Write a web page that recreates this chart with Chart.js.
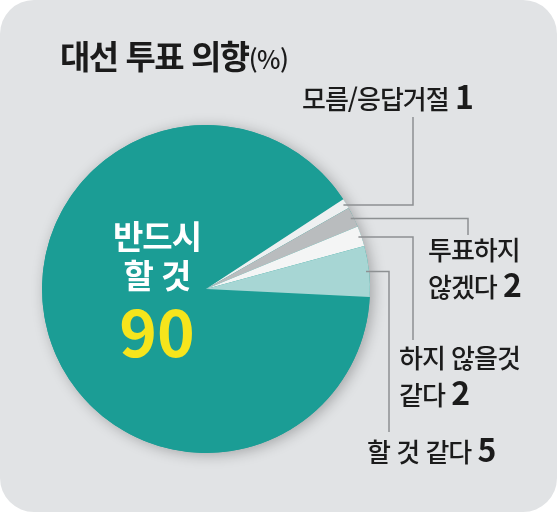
<!DOCTYPE html>
<html lang="ko">
<head>
<meta charset="utf-8">
<script src="https://cdn.jsdelivr.net/npm/chart.js@4"></script>
<style>
  html, body { margin: 0; padding: 0; background: #fff; }
  #card {
    position: relative;
    width: 557px;
    height: 512px;
    background: #e1e3e5;
    border-radius: 34px;
    overflow: hidden;
    font-family: "Noto Sans CJK KR", "Noto Sans", sans-serif;
    color: #1b1b1b;
  }
  #chart { position: absolute; left: 0; top: 0; }
  .txt { position: absolute; white-space: nowrap; }
  #title { left: 60px; top: 39px; font-size: 33px; line-height: 33px; font-weight: 700; letter-spacing: -1.5px; }
  #title small { font-size: 25px; font-weight: 500; letter-spacing: -0.5px; }
  .lbl { font-size: 26px; line-height: 34px; font-weight: 500; letter-spacing: -1px; }
  .lbl b { font-weight: 700; font-size: 32px; letter-spacing: 0; }
  #inside { left: 97px; top: 216px; width: 120px; text-align: center; color: #fff; font-size: 33px; line-height: 39px; font-weight: 700; letter-spacing: -1px; }
  #big { left: 97px; top: 297px; width: 120px; text-align: center; color: #f6e51c; font-size: 64px; line-height: 64px; font-weight: 700; }
</style>
</head>
<body>
<div id="card">
  <canvas id="chart" width="557" height="512"></canvas>
  <div class="txt" id="title">대선 투표 의향<small>(%)</small></div>
  <div class="txt lbl" id="lbl1" style="left:302px; top:78px;">모름/응답거절 <b>1</b></div>
  <div class="txt lbl" id="lbl2" style="left:428px; top:232px;">투표하지<br>않겠다 <b>2</b></div>
  <div class="txt lbl" id="lbl3" style="left:399px; top:340px;">하지 않을것<br>같다 <b>2</b></div>
  <div class="txt lbl" id="lbl4" style="left:367px; top:431px;">할 것 같다 <b>5</b></div>
  <div class="txt" id="inside">반드시<br>할 것</div>
  <div class="txt" id="big">90</div>
</div>
<script>
const categories = ["반드시 할 것", "모름/응답거절", "투표하지 않겠다", "하지 않을것 같다", "할 것 같다"];
const shares = [90, 1, 2, 2, 5];

const sliceColors = ["#1b9d95", "#eef0f1", "#b9bcbe", "#f4f5f5", "#a7d6d4"];

// where each leader line bends and ends (slice index -> elbow x, end y)
const leaderRoutes = {
  1: { x: 413, y: 117 },
  2: { x: 468, y: 235 },
  3: { x: 413, y: 340 },
  4: { x: 389, y: 432 }
};

const pieShadow = {
  id: "pieShadow",
  beforeDatasetsDraw(chart) {
    const arc = chart.getDatasetMeta(0).data[0];
    if (!arc) return;
    const { ctx } = chart;
    ctx.save();
    ctx.shadowColor = "rgba(0, 0, 0, 0.28)";
    ctx.shadowBlur = 14;
    ctx.shadowOffsetX = 3;
    ctx.shadowOffsetY = 2;
    ctx.fillStyle = "#1b9d95";
    ctx.beginPath();
    ctx.arc(arc.x, arc.y, arc.outerRadius, 0, Math.PI * 2);
    ctx.fill();
    ctx.restore();
  }
};

const leaders = {
  id: "leaders",
  afterDatasetsDraw(chart) {
    const { ctx } = chart;
    const arcs = chart.getDatasetMeta(0).data;
    ctx.save();
    ctx.strokeStyle = "#8d9092";
    ctx.lineWidth = 1.5;
    Object.entries(leaderRoutes).forEach(([i, route]) => {
      const arc = arcs[i];
      const mid = (arc.startAngle + arc.endAngle) / 2;
      const r = arc.outerRadius - 3;
      const sx = arc.x + Math.cos(mid) * r;
      const sy = arc.y + Math.sin(mid) * r;
      ctx.beginPath();
      ctx.moveTo(sx, sy);
      ctx.lineTo(route.x, sy);
      ctx.lineTo(route.x, route.y);
      ctx.stroke();
    });
    ctx.restore();
  }
};

new Chart(document.getElementById("chart"), {
  type: "pie",
  data: {
    labels: categories,
    datasets: [
      {
        data: shares,
        backgroundColor: sliceColors,
        borderWidth: 0
      }
    ]
  },
  options: {
    responsive: false,
    animation: false,
    rotation: 92.8,
    layout: { padding: { left: 42, top: 125, right: 187, bottom: 59 } },
    plugins: {
      legend: { display: false },
      tooltip: { enabled: false }
    }
  },
  plugins: [pieShadow, leaders]
});
</script>
</body>
</html>
